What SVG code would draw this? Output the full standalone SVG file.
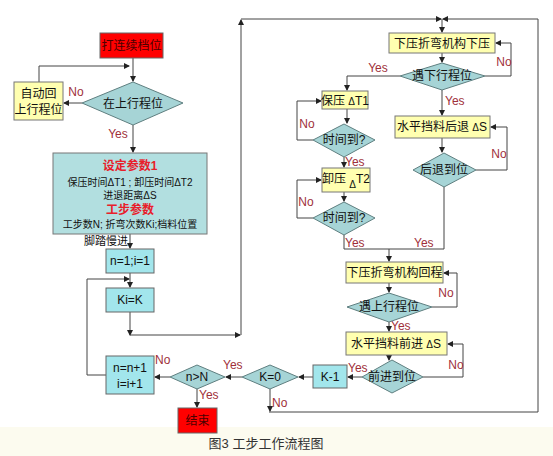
<svg xmlns="http://www.w3.org/2000/svg" width="553" height="456" viewBox="0 0 553 456">
<defs>
<marker id="ah" markerWidth="6" markerHeight="6" refX="5" refY="3" orient="auto" markerUnits="userSpaceOnUse">
<path d="M0,0 L6,3 L0,6 z" fill="#222"/>
</marker>
<style>
text{font-family:"Liberation Sans","Noto Sans CJK SC",sans-serif;font-size:12px;fill:#111;text-anchor:middle}
.lab{fill:#a0303a;font-size:12px}
.labl{fill:#a0303a;font-size:12px;text-anchor:start}
.red{fill:#ff0000;stroke:#666;stroke-width:1}
.yel{fill:#ffffb0;stroke:#777;stroke-width:1}
.cy{fill:#a2e6ec;stroke:#666;stroke-width:1}
.dia{fill:#a6d4d6;stroke:#5f7f80;stroke-width:1}
.ln{fill:none;stroke:#444;stroke-width:1}
.ar{fill:none;stroke:#444;stroke-width:1;marker-end:url(#ah)}
.rt{fill:#e8202a;font-weight:bold;font-size:12px}
.sm{font-size:10px}
</style>
</defs>
<rect x="0" y="0" width="553" height="456" fill="#ffffff"/>
<rect x="0" y="427" width="553" height="29" fill="#fcfbef"/>

<g id="connectors">
<path class="ar" d="M133,58 V81"/>
<path class="ar" d="M82,103 H64"/>
<path class="ar" d="M39,82 V66 H129"/>
<path class="ar" d="M133,125 V152"/>
<path class="ar" d="M130,234 V248"/>
<path class="ar" d="M130,273 V287"/>
<path class="ar" d="M106,375 H87 V279 H129"/>
<path class="ar" d="M130,312 V335"/>
<path class="ar" d="M130,335 H240"/>
<path class="ar" d="M241,335 V20"/>
<path class="ar" d="M241,19 H441"/>
<path class="ar" d="M538,19 H443"/>
<path class="ln" d="M538,19 V412 H269"/>
<path class="ar" d="M442,19 V32"/>
<path class="ar" d="M442,53 V62"/>
<path class="ar" d="M485,76 H511 V43 H496"/>
<path class="ar" d="M400,76 H347 V90"/>
<path class="ar" d="M442,90 V115"/>
<path class="ar" d="M347,109 V123"/>
<path class="ar" d="M313,140 H297 V101 H321"/>
<path class="ar" d="M344,157 V167"/>
<path class="ar" d="M344,192 V201"/>
<path class="ar" d="M313,218 H297 V180 H321"/>
<path class="ln" d="M344,235 V249 H444 V187"/>
<path class="ar" d="M442,138 V152"/>
<path class="ar" d="M476,170 H507 V127 H491"/>
<path class="ar" d="M389,249 V261"/>
<path class="ar" d="M389,283 V292"/>
<path class="ar" d="M432,307 H457 V273 H444"/>
<path class="ar" d="M389,322 V331"/>
<path class="ar" d="M389,355 V360"/>
<path class="ar" d="M423,377 H463 V344 H448"/>
<path class="ar" d="M362,377 H348"/>
<path class="ar" d="M313,377 H299"/>
<path class="ar" d="M270,389 V411"/>
<path class="ar" d="M242,377 H226"/>
<path class="ar" d="M170,377 H155"/>
<path class="ar" d="M197,388 V407"/>
</g>

<g id="labels">
<text class="lab" x="76" y="96">No</text>
<text class="lab" x="118" y="138">Yes</text>
<text class="lab" x="378" y="72">Yes</text>
<text class="lab" x="504" y="66">No</text>
<text class="labl" x="445" y="105">Yes</text>
<text class="lab" x="307" y="128">No</text>
<text class="labl" x="345" y="166">Yes</text>
<text class="lab" x="499" y="158">No</text>
<text class="lab" x="306" y="206">No</text>
<text class="labl" x="345" y="247">Yes</text>
<text class="labl" x="414" y="247">Yes</text>
<text class="lab" x="446" y="297">No</text>
<text class="labl" x="391" y="330">Yes</text>
<text class="lab" x="456" y="369">No</text>
<text class="labl" x="348" y="372">Yes</text>
<text class="labl" x="272" y="407">No</text>
<text class="labl" x="223" y="369">Yes</text>
<text class="labl" x="155" y="364">No</text>
<text class="labl" x="199" y="399">Yes</text>
<text x="106" y="245" style="font-size:11px">脚踏慢进</text>
</g>

<g id="start"><rect class="red" x="100" y="33" width="63" height="25"/><text x="131.5" y="50" style="fill:#4a0000">打连续档位</text></g>
<g id="d_top"><polygon class="dia" points="82,103 133,82 183,103 133,125"/><text x="133" y="108">在上行程位</text></g>
<g id="auto_back"><rect class="yel" x="14" y="82" width="49" height="38"/><text x="38.5" y="98">自动回</text><text x="38.5" y="114">上行程位</text></g>
<g id="params"><rect x="53" y="153" width="154" height="81" fill="#b2dfe0" stroke="#777"/>
<text class="rt" x="130" y="170">设定参数1</text>
<text x="130" y="186" style="font-size:10px">保压时间ΔT1 ; 卸压时间ΔT2</text>
<text x="130" y="199" style="font-size:10px">进退距离ΔS</text>
<text class="rt" x="130" y="214">工步参数</text>
<text x="130" y="228" style="font-size:10px">工步数N; 折弯次数Ki;档料位置</text></g>
<g id="init"><rect class="cy" x="106" y="249" width="48" height="24"/><text x="130" y="265">n=1;i=1</text></g>
<g id="kik"><rect class="cy" x="106" y="288" width="48" height="24"/><text x="130" y="304">Ki=K</text></g>
<g id="incr"><rect class="cy" x="106" y="356" width="48" height="38"/><text x="130" y="372">n=n+1</text><text x="130" y="388">i=i+1</text></g>
<g id="d_nN"><polygon class="dia" points="170,377 197,365 225,377 197,389"/><text x="197" y="381">n&gt;N</text></g>
<g id="end"><rect class="red" x="178" y="408" width="39" height="25"/><text x="197.5" y="425" style="fill:#4a0000">结束</text></g>
<g id="d_k0"><polygon class="dia" points="242,377 270,365 298,377 270,389"/><text x="270" y="381">K=0</text></g>
<g id="km1"><rect class="cy" x="313" y="365" width="34" height="23"/><text x="330" y="381">K-1</text></g>

<g id="press_down"><rect class="yel" x="389" y="33" width="106" height="20"/><text x="442" y="48">下压折弯机构下压</text></g>
<g id="d_lower"><polygon class="dia" points="400,76 442,63 485,76 442,90"/><text x="442" y="80">遇下行程位</text></g>
<g id="hold"><rect class="yel" x="322" y="91" width="46" height="18"/><text x="345" y="105">保压 <tspan class="sm">Δ</tspan>T1</text></g>
<g id="d_t1"><polygon class="dia" points="313,140 344,124 375,140 344,157"/><text x="344" y="144">时间到?</text></g>
<g id="release"><rect class="yel" x="322" y="168" width="48" height="24"/><text x="346" y="183">卸压 <tspan class="sm" dy="5">Δ</tspan><tspan dy="-5">T2</tspan></text></g>
<g id="d_t2"><polygon class="dia" points="313,218 344,202 375,218 344,235"/><text x="344" y="222">时间到?</text></g>
<g id="back"><rect class="yel" x="395" y="116" width="95" height="22"/><text x="442" y="131">水平挡料后退 <tspan class="sm">Δ</tspan>S</text></g>
<g id="d_back"><polygon class="dia" points="413,170 444,153 476,170 444,187"/><text x="444" y="174">后退到位</text></g>
<g id="return"><rect class="yel" x="346" y="262" width="97" height="21"/><text x="394.5" y="277">下压折弯机构回程</text></g>
<g id="d_upper"><polygon class="dia" points="347,307 389,293 432,307 389,322"/><text x="389" y="311">遇上行程位</text></g>
<g id="fwd"><rect class="yel" x="346" y="332" width="101" height="23"/><text x="396" y="348">水平挡料前进 <tspan class="sm">Δ</tspan>S</text></g>
<g id="d_fwd"><polygon class="dia" points="362,377 392,360 423,377 392,393"/><text x="392" y="381">前进到位</text></g>

<text x="266" y="448" style="fill:#333;font-size:13px">图3 工步工作流程图</text>
</svg>
